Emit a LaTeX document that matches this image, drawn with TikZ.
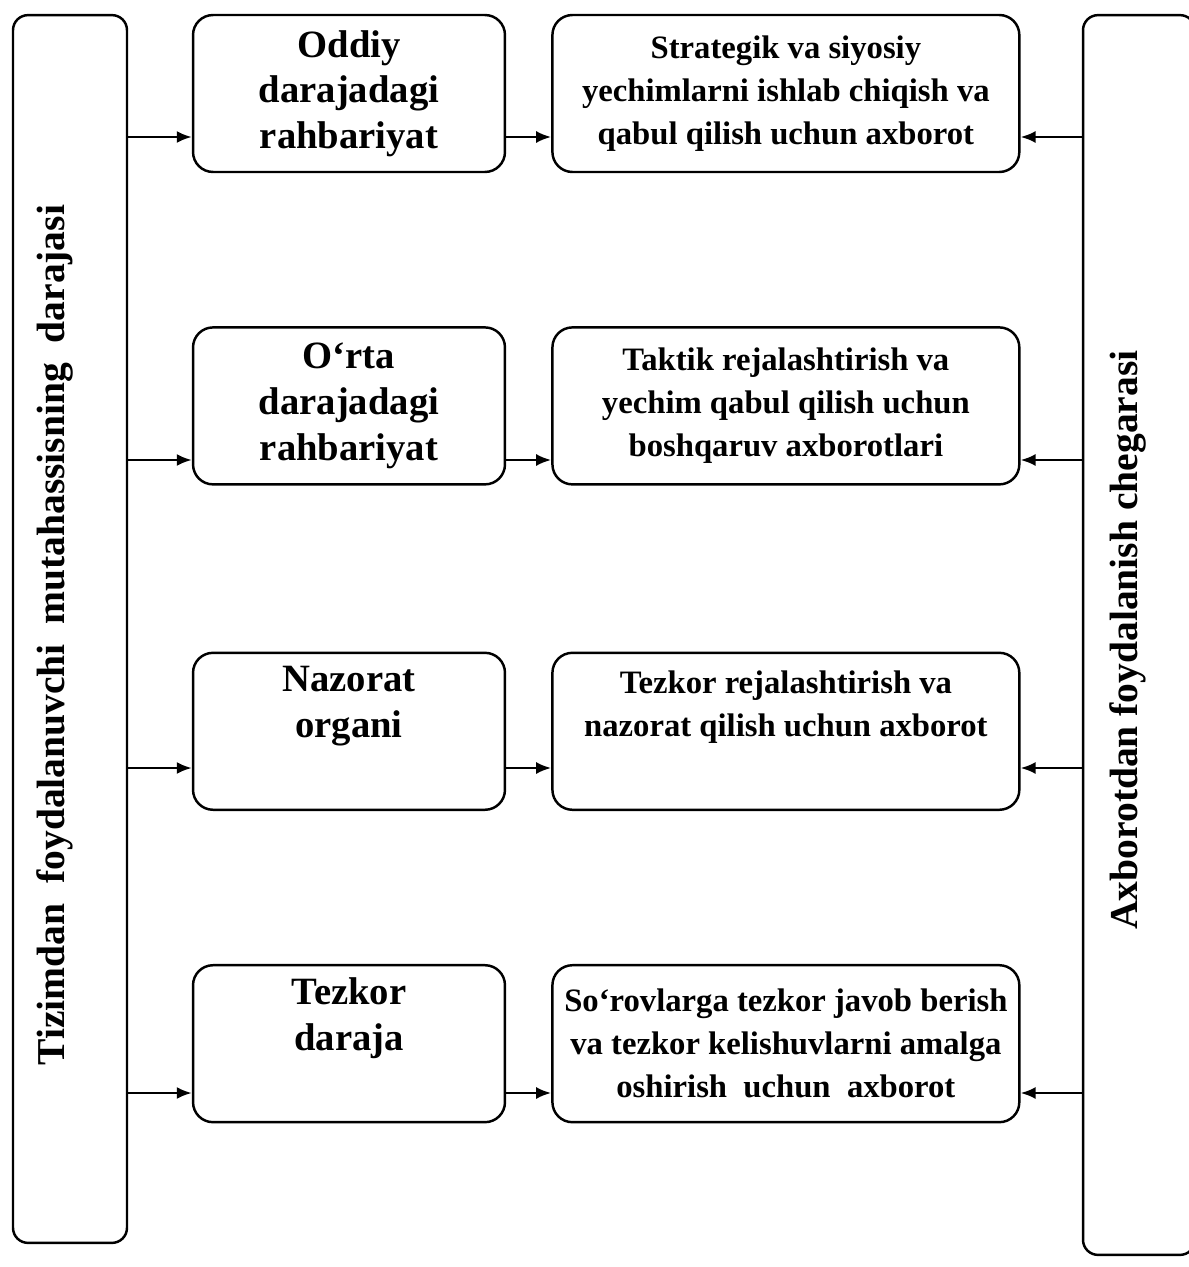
\documentclass[tikz,border=0pt]{standalone}
\usepackage{fontspec}
\setmainfont{Liberation Serif}
\usetikzlibrary{arrows.meta, positioning}

\begin{document}
\begin{tikzpicture}[
    x=0.02cm, y=-0.02cm,
    node distance=0.9cm,
    level/.style={rectangle, draw, line width=1.4pt, rounded corners=0.4cm, minimum width=6.24cm, minimum height=3.14cm, align=center, font=\bfseries\fontsize{22}{26}\selectfont},
    info/.style={rectangle, draw, line width=1.4pt, rounded corners=0.4cm, minimum width=9.34cm, minimum height=3.14cm, align=center, font=\bfseries\fontsize{18.6}{24.4}\selectfont},
    sidebox/.style={rectangle, draw, line width=1.4pt, rounded corners=0.3cm},
    sidetext/.style={rotate=90, font=\bfseries\fontsize{22.5}{26}\selectfont},
    arrow/.style={-{Latex[length=3mm, width=2.4mm]}, line width=1.4pt}
]

\useasboundingbox (0,0) rectangle (1189,1267);

% side frames
\node[sidebox, minimum width=2.28cm, minimum height=24.56cm] (user) at (70,629) {};
\node[sidebox, minimum width=2.24cm, minimum height=24.8cm] (limit) at (1139,635) {};
\node[sidetext] (usertext) at (55,635) {Tizimdan~ foydalanuvchi~ mutahassisning~ darajasi};
\node[sidetext] (limittext) at (1128,640) {Axborotdan foydalanish chegarasi};

% levels of management
\node[level] (lvl1) at (349,93.5) {Oddiy\\darajadagi\\rahbariyat};
\node[level, below=3.06cm of lvl1] (lvl2) {O‘rta\\darajadagi\\rahbariyat};
\node[level, below=3.32cm of lvl2] (lvl3) {Nazorat\\organi\\\strut};
\node[level, below=3.06cm of lvl3] (lvl4) {Tezkor\\daraja\\\strut};

% information needed
\node[info, right=of lvl1] (info1) {Strategik va siyosiy\\yechimlarni ishlab chiqish va\\qabul qilish uchun axborot};
\node[info, right=of lvl2] (info2) {Taktik rejalashtirish va\\yechim qabul qilish uchun\\boshqaruv axborotlari};
\node[info, right=of lvl3] (info3) {Tezkor rejalashtirish va\\nazorat qilish uchun axborot\\\strut};
\node[info, right=of lvl4] (info4) {So‘rovlarga tezkor javob berish\\va tezkor kelishuvlarni amalga\\oshirish~ uchun~ axborot};

% arrow rows
\coordinate (r1) at (0,137);
\coordinate (r2) at (0,460);
\coordinate (r3) at (0,768);
\coordinate (r4) at (0,1093);

\draw[arrow] (user.east |- r1) -- (lvl1.west |- r1);
\draw[arrow] (lvl1.east |- r1) -- (info1.west |- r1);
\draw[arrow] (limit.west |- r1) -- (info1.east |- r1);

\draw[arrow] (user.east |- r2) -- (lvl2.west |- r2);
\draw[arrow] (lvl2.east |- r2) -- (info2.west |- r2);
\draw[arrow] (limit.west |- r2) -- (info2.east |- r2);

\draw[arrow] (user.east |- r3) -- (lvl3.west |- r3);
\draw[arrow] (lvl3.east |- r3) -- (info3.west |- r3);
\draw[arrow] (limit.west |- r3) -- (info3.east |- r3);

\draw[arrow] (user.east |- r4) -- (lvl4.west |- r4);
\draw[arrow] (lvl4.east |- r4) -- (info4.west |- r4);
\draw[arrow] (limit.west |- r4) -- (info4.east |- r4);

\end{tikzpicture}
\end{document}
